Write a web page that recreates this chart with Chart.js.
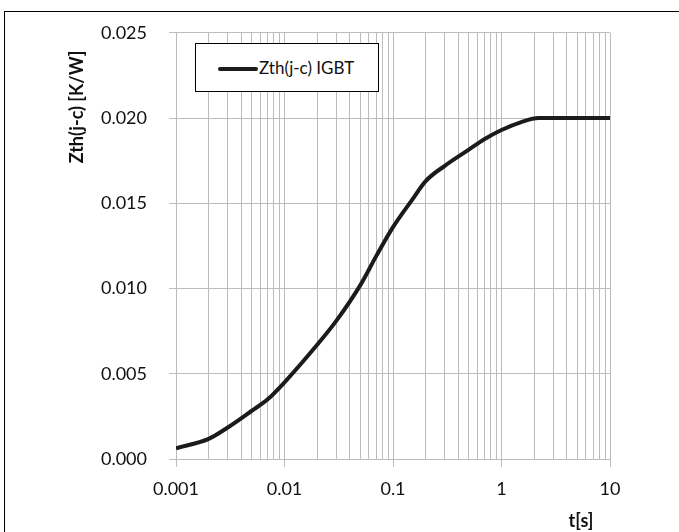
<!DOCTYPE html>
<html>
  <head>
    <meta charset="UTF-8">
    <title>Zth(j-c) IGBT</title>
    <script src="https://cdn.jsdelivr.net/npm/chart.js@4.4.0/dist/chart.umd.min.js"></script>
    <style>
      html, body { margin: 0; padding: 0; background: #fff; overflow: hidden; }
      #wrap { position: relative; width: 679px; height: 532px; }
      #frame {
        position: absolute; left: 4px; top: 11px; width: 700px; height: 560px;
        border-left: 1px solid #000; border-top: 1px solid #000;
      }
      #legend {
        position: absolute; left: 195px; top: 43px; width: 182px; height: 47px;
        border: 1px solid #000; background: #fff;
        font-family: Lato, sans-serif; font-size: 17px; color: #111;
      }
      #legend .swatch {
        position: absolute; left: 22px; top: 23px; width: 40px; height: 4px; border-radius: 2px;
      }
      #legend .text { position: absolute; left: 63px; top: 13px; white-space: nowrap; }
    </style>
  </head>
  <body>
    <div id='wrap'>
      <canvas id='zthChart' width='679' height='532'></canvas>
      <div id='frame'></div>
      <div id='legend'></div>
    </div>

    <script>
      // values
      const timeSec = [0.001, 0.002, 0.003, 0.005, 0.007, 0.01, 0.02, 0.03, 0.05, 0.07, 0.1, 0.15, 0.2, 0.3, 0.5, 0.7, 1, 1.5, 2.2, 3, 5, 10];
      const zthIgbt = [0.00063, 0.00118, 0.00185, 0.00283, 0.00350, 0.0045, 0.0067, 0.0081, 0.0102, 0.0119, 0.0136, 0.0152, 0.0163, 0.0172, 0.01815, 0.01877, 0.0193, 0.01975, 0.0200, 0.0200, 0.0200, 0.0200];

      const seriesLabel = 'Zth(j-c) IGBT';
      const xMajorTicks = [0.001, 0.01, 0.1, 1, 10];
      const xTickLabels = ['0.001', '0.01', '0.1', '1', '10'];
      const yTicks = [0, 0.005, 0.010, 0.015, 0.020, 0.025];
      const yTickLabels = ['0.000', '0.005', '0.010', '0.015', '0.020', '0.025'];
      const xTitle = 't[s]';
      const yTitle = 'Zth(j-c) [K/W]';

      const GRID = '#bcbcbc';
      const LINE = '#1c1a1a';
      const FONT = 'Lato, sans-serif';

      function isMajor(v) {
        return xMajorTicks.some(m => Math.abs(v - m) / m < 1e-6);
      }

      // 1..9 per decade, like the log grid of the original
      function logTicks() {
        const out = [];
        for (let i = 0; i < xMajorTicks.length - 1; i++) {
          for (let k = 1; k < 10; k++) out.push({ value: xMajorTicks[i] * k });
        }
        out.push({ value: xMajorTicks[xMajorTicks.length - 1] });
        return out;
      }

      const titlesPlugin = {
        id: 'axisTitles',
        afterDraw(chart) {
          const ctx = chart.ctx;
          ctx.save();
          ctx.fillStyle = '#111';
          ctx.font = 'bold 18px ' + FONT;
          ctx.textAlign = 'center';
          ctx.textBaseline = 'middle';
          ctx.fillText(xTitle, 581, 521);
          ctx.translate(77, 107);
          ctx.rotate(-Math.PI / 2);
          ctx.fillText(yTitle, 0, 0);
          ctx.restore();
        }
      };

      const ctx = document.getElementById('zthChart').getContext('2d');
      const chart = new Chart(ctx, {
        type: 'line',
        data: {
          datasets: [{
            label: seriesLabel,
            data: timeSec.map((t, i) => ({ x: t, y: zthIgbt[i] })),
            borderColor: LINE,
            backgroundColor: LINE,
            borderWidth: 4,
            pointRadius: 0,
            cubicInterpolationMode: 'monotone',
            fill: false
          }]
        },
        options: {
          responsive: false,
          animation: false,
          layout: { padding: { left: 0, top: 31, right: 69, bottom: 0 } },
          plugins: { legend: { display: false }, tooltip: { enabled: false } },
          scales: {
            x: {
              type: 'logarithmic',
              min: 0.001,
              max: 10,
              afterBuildTicks: (scale) => { scale.ticks = logTicks(); },
              afterFit: (scale) => { scale.height = 73; },
              grid: {
                color: GRID,
                lineWidth: 1,
                tickLength: 8,
                tickColor: (c) => (c.tick && isMajor(c.tick.value) ? GRID : 'rgba(0,0,0,0)')
              },
              border: { color: GRID, width: 1 },
              ticks: {
                autoSkip: false,
                maxRotation: 0,
                padding: 11,
                color: '#111',
                font: { family: FONT, size: 18 },
                callback: (v) => {
                  const i = xMajorTicks.findIndex(m => Math.abs(v - m) / m < 1e-6);
                  return i >= 0 ? xTickLabels[i] : '';
                }
              }
            },
            y: {
              min: yTicks[0],
              max: yTicks[yTicks.length - 1],
              afterBuildTicks: (scale) => { scale.ticks = yTicks.map(v => ({ value: v })); },
              afterFit: (scale) => { scale.width = 176; },
              grid: { color: GRID, lineWidth: 1, tickLength: 7, tickColor: GRID },
              border: { color: GRID, width: 1 },
              ticks: {
                padding: 22,
                color: '#111',
                font: { family: FONT, size: 18 },
                callback: (v, i) => yTickLabels[i]
              }
            }
          }
        },
        plugins: [titlesPlugin]
      });

      // legend box built from the dataset
      const legend = document.getElementById('legend');
      const ds = chart.data.datasets[0];
      legend.innerHTML = `<span class='swatch' style='background:${ds.borderColor}'></span><span class='text'>${ds.label}</span>`;
    </script>
  </body>
</html>
